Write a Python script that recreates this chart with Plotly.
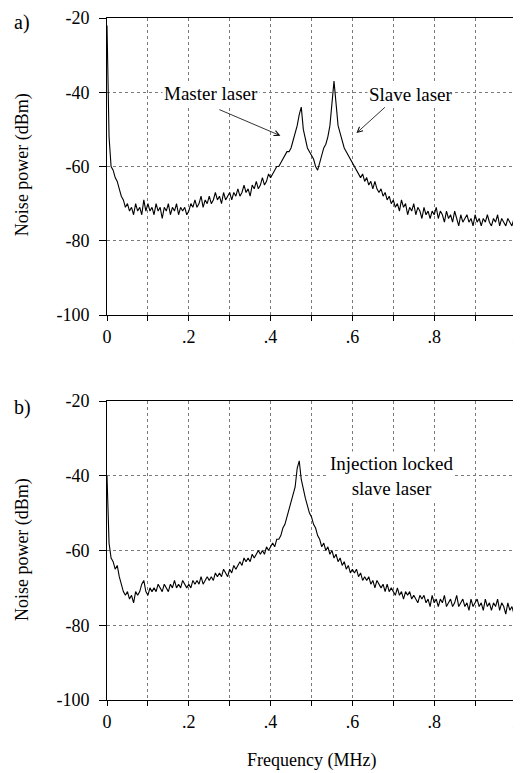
import numpy as np
import plotly.graph_objects as go

# Frequency grid (MHz)
freq = np.round(np.linspace(0, 1, 201), 3)

# Panel a) free-running master and slave lasers (dBm)
power_a = [
    -22, -52, -60, -61, -63, -64, -66, -68, -69, -71, -70, -72, -71, -73, -70, -72, -71, -73, -69, -72,
    -70, -72, -71, -73, -70, -72, -71, -74, -71, -72, -70, -73, -71, -72, -70, -73, -71, -72, -71, -73,
    -72, -70, -71, -69, -71, -70, -68, -71, -69, -70, -68, -70, -69, -67, -69, -68, -70, -67, -69, -68,
    -67, -69, -67, -68, -66, -68, -67, -65, -67, -66, -68, -65, -66, -64, -66, -65, -63, -65, -64, -62,
    -63, -62, -61, -60, -60, -59, -58, -57, -56, -56, -55, -53, -51, -49, -46, -44, -50, -53, -55, -56,
    -57, -58, -60, -61, -59, -57, -55, -54, -52, -49, -43, -37, -43, -49, -51, -53, -55, -56, -57, -58,
    -59, -60, -61, -62, -63, -62, -64, -63, -65, -64, -66, -64, -66, -67, -66, -68, -67, -69, -68, -70,
    -69, -71, -70, -72, -69, -71, -70, -73, -71, -72, -70, -73, -71, -72, -74, -71, -73, -72, -74, -72,
    -73, -71, -74, -72, -73, -75, -72, -74, -73, -75, -72, -74, -76, -73, -75, -74, -73, -75, -74, -76,
    -73, -75, -74, -76, -74, -75, -73, -75, -76, -74, -75, -73, -76, -74, -75, -76, -74, -75, -76, -74,
    -75,
]

# Panel b) injection locked slave laser (dBm)
power_b = [
    -40, -58, -62, -63, -65, -64, -67, -69, -71, -72, -71, -73, -72, -74, -71, -72, -71, -69, -68, -71,
    -72, -70, -71, -70, -71, -69, -70, -71, -69, -70, -71, -69, -70, -68, -70, -69, -70, -68, -69, -70,
    -69, -70, -68, -69, -68, -69, -67, -69, -68, -67, -68, -67, -68, -66, -67, -66, -67, -65, -66, -67,
    -65, -66, -64, -65, -64, -63, -64, -62, -63, -62, -63, -61, -62, -61, -60, -61, -60, -61, -59, -60,
    -59, -58, -59, -57, -57, -56, -54, -53, -51, -49, -47, -45, -43, -38, -36, -41, -44, -46, -48, -50,
    -51, -53, -54, -56, -57, -59, -58, -60, -59, -61, -60, -62, -61, -63, -62, -64, -63, -65, -64, -66,
    -65, -66, -65, -67, -66, -68, -67, -68, -67, -69, -68, -70, -68, -69, -70, -69, -71, -69, -71, -70,
    -71, -72, -70, -72, -71, -73, -71, -72, -71, -73, -72, -73, -74, -72, -73, -72, -74, -73, -75, -72,
    -74, -73, -75, -73, -74, -72, -75, -74, -73, -75, -74, -72, -75, -74, -73, -75, -74, -76, -73, -75,
    -74, -73, -75, -74, -76, -73, -75, -74, -76, -74, -75, -73, -76, -74, -75, -77, -74, -76, -75, -77,
    -76,
]

x_tickvals = [0, 0.1, 0.2, 0.3, 0.4, 0.5, 0.6, 0.7, 0.8, 0.9, 1.0]
x_ticktext = ["0", "", ".2", "", ".4", "", ".6", "", ".8", "", "1"]
y_tickvals = [-20, -40, -60, -80, -100]
y_ticktext = ["-20", "-40", "-60", "-80", "-100"]

FONT = "'Liberation Serif', 'Times New Roman', Times, serif"

fig = go.Figure()
fig.add_trace(go.Scatter(x=freq, y=power_a, mode="lines",
                         line=dict(color="black", width=1.1), xaxis="x", yaxis="y",
                         showlegend=False))
fig.add_trace(go.Scatter(x=freq, y=power_b, mode="lines",
                         line=dict(color="black", width=1.1), xaxis="x2", yaxis="y2",
                         showlegend=False))

xcommon = dict(range=[0, 1], tickvals=x_tickvals, ticktext=x_ticktext,
               showgrid=True, gridcolor="#7a7a7a", griddash="dot", gridwidth=1,
               showline=True, linecolor="black", linewidth=1, mirror=True,
               ticks="outside", ticklen=5, tickcolor="black",
               tickfont=dict(family=FONT, size=18, color="black"),
               ticklabeloverflow="allow", automargin=False,
               zeroline=False, fixedrange=True)
ycommon = dict(range=[-100, -20], tickvals=y_tickvals, ticktext=y_ticktext,
               showgrid=True, gridcolor="#7a7a7a", griddash="dot", gridwidth=1,
               showline=True, linecolor="black", linewidth=1, mirror=True,
               ticks="outside", ticklen=7, tickcolor="black",
               tickfont=dict(family=FONT, size=18, color="black"),
               ticklabelstandoff=6, automargin=False,
               zeroline=False, fixedrange=True)

# The page body has an 8px default margin, so the figure is sized/offset to compensate.
fig.update_layout(
    width=513, height=765,
    margin=dict(l=99, r=5, t=10, b=73),
    paper_bgcolor="white", plot_bgcolor="white",
    font=dict(family=FONT, color="black"),
    xaxis=dict(**xcommon, domain=[0, 1], anchor="y"),
    yaxis=dict(**ycommon, domain=[0.5645, 1.0], anchor="x"),
    xaxis2=dict(**xcommon, domain=[0, 1], anchor="y2"),
    yaxis2=dict(**ycommon, domain=[0.0, 0.4384], anchor="x2"),
)

TF = dict(family=FONT, size=18, color="black")
annots = [
    dict(text="a)", xref="paper", yref="paper", x=-0.207, y=0.994, xanchor="center", yanchor="middle",
         showarrow=False, font=dict(family=FONT, size=20, color="black")),
    dict(text="b)", xref="paper", yref="paper", x=-0.207, y=0.4296, xanchor="center", yanchor="middle",
         showarrow=False, font=dict(family=FONT, size=20, color="black")),
    dict(text="Noise power (dBm)", xref="paper", yref="paper", x=-0.205, y=0.7845, textangle=-90,
         xanchor="center", yanchor="middle", showarrow=False, font=TF),
    dict(text="Noise power (dBm)", xref="paper", yref="paper", x=-0.205, y=0.22, textangle=-90,
         xanchor="center", yanchor="middle", showarrow=False, font=TF),
    dict(text="Frequency (MHz)", xref="paper", yref="paper", x=0.5, y=-0.0894,
         xanchor="center", yanchor="middle", showarrow=False, font=TF),
    dict(text="Master laser", xref="x", yref="y", x=0.254, y=-40.3, showarrow=False,
         bgcolor="white", font=dict(family=FONT, size=19, color="black")),
    dict(text="Slave laser", xref="x", yref="y", x=0.744, y=-40.5, showarrow=False,
         bgcolor="white", font=dict(family=FONT, size=19, color="black")),
    dict(text="", xref="x", yref="y", x=0.424, y=-51.7, axref="x", ayref="y", ax=0.271, ay=-44.5,
         showarrow=True, arrowhead=5, arrowsize=1.3, arrowwidth=0.8, arrowcolor="black"),
    dict(text="", xref="x", yref="y", x=0.610, y=-51.0, axref="x", ayref="y", ax=0.683, ay=-43.7,
         showarrow=True, arrowhead=5, arrowsize=1.3, arrowwidth=0.8, arrowcolor="black"),
    dict(text="Injection locked<br>slave laser", xref="x2", yref="y2", x=0.695, y=-40.0,
         showarrow=False, bgcolor="white", font=dict(family=FONT, size=19, color="black")),
]
fig.update_layout(annotations=annots)

fig.write_html("out.html")
